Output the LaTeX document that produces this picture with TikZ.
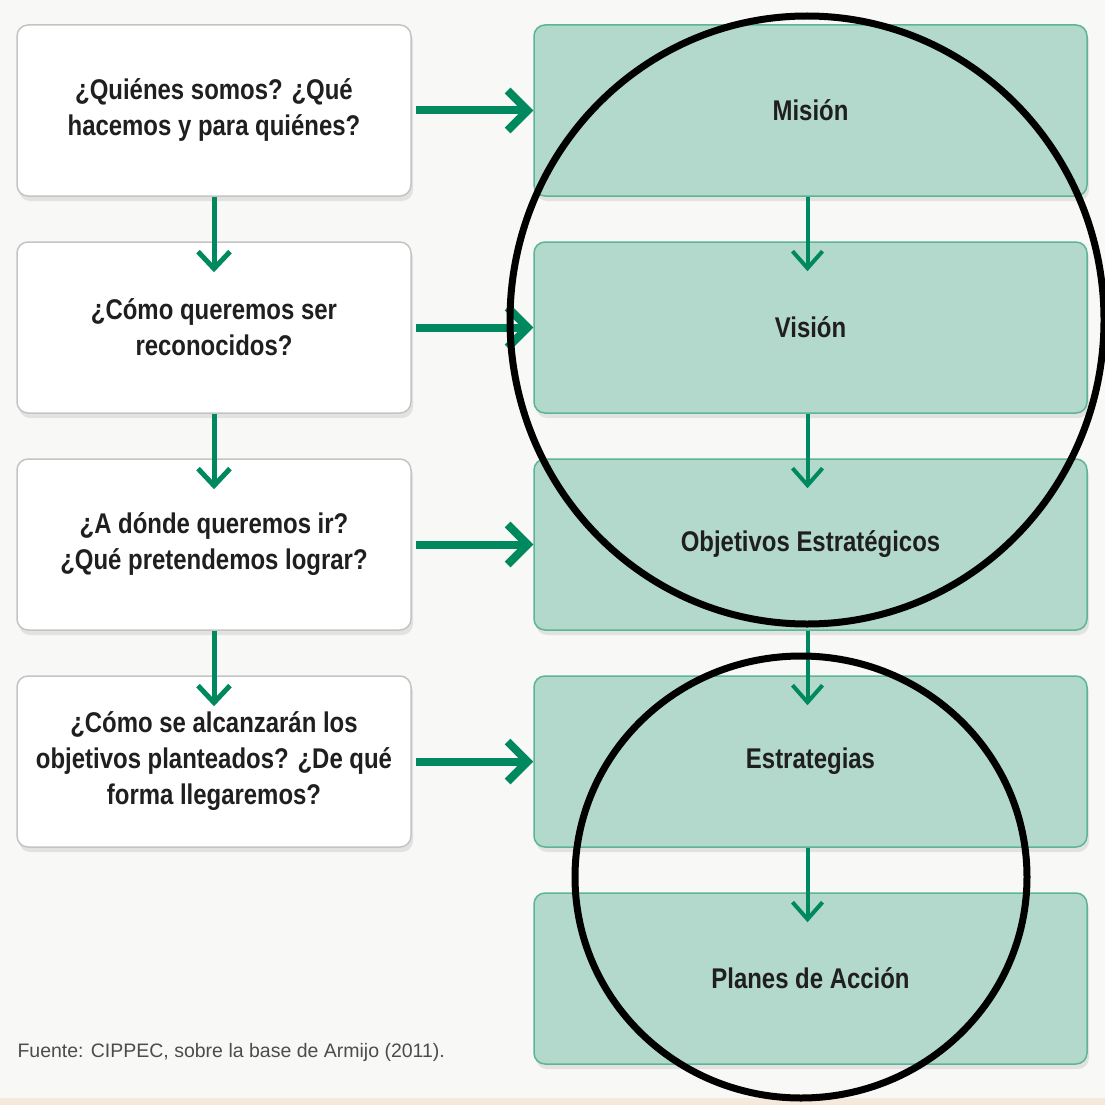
\documentclass[tikz,border=0pt]{standalone}
\usepackage{fontspec}
\setmainfont{Liberation Sans}[FakeStretch=0.84]
\newfontfamily\fuentefont{Liberation Sans}
\usetikzlibrary{arrows.meta, shadows}
\definecolor{bgpaper}{HTML}{F8F8F6}
\definecolor{bgstrip}{HTML}{F7E8DC}
\definecolor{boxgray}{HTML}{C4C4C4}
\definecolor{mint}{HTML}{B3D8CC}
\definecolor{mintedge}{HTML}{5BB596}
\definecolor{arrowgreen}{HTML}{00895F}
\definecolor{inkgray}{HTML}{1F1F1F}
\tikzstyle{question} = [rectangle, rounded corners=11pt, minimum width=394pt, minimum height=171pt, text centered, align=center, draw=boxgray, line width=1.5pt, fill=white, text=inkgray, font=\bfseries\fontsize{28.5}{36}\selectfont, drop shadow={opacity=0.18, shadow xshift=2pt, shadow yshift=-5pt}]
\tikzstyle{stage} = [question, minimum width=553pt, draw=mintedge, fill=mint]
\tikzstyle{harrow} = [arrowgreen, line width=8pt, -{Straight Barb[length=20pt, width=40pt]}]
\tikzstyle{varrow} = [arrowgreen, line width=5pt, -{Straight Barb[length=17pt, width=32pt]}]
\tikzstyle{sarrow} = [arrowgreen, line width=4pt, -{Straight Barb[length=17pt, width=30pt]}]
\tikzstyle{ring} = [draw=black, line width=7pt]

\begin{document}
\begin{tikzpicture}[x=1pt, y=1pt, node distance=217pt]
\fill [bgpaper] (0,-1105) rectangle (1105,0);
\fill [bgstrip] (0,-1105) rectangle (1105,-1098);
\useasboundingbox (0,-1105) rectangle (1105,0);
% preguntas
\node (q1) [question] at (214,-110.5) {¿Quiénes somos? ¿Qué\\hacemos y para quiénes?};
\node (q2) [question, below of = q1] {¿Cómo queremos ser\\reconocidos?};
\node (q3) [question, below of = q2] {¿A dónde queremos ir?\\¿Qué pretendemos lograr?};
\node (q4) [question, below of = q3] {¿Cómo se alcanzarán los\\objetivos planteados? ¿De qué\\forma llegaremos?};
% etapas
\node (mision) [stage, right of = q1, xshift = 379.5pt] {Misión};
\node (vision) [stage, below of = mision] {Visión};
\node (objetivos) [stage, below of = vision] {Objetivos Estratégicos};
\node (estrategias) [stage, below of = objetivos] {Estrategias};
\node (planes) [stage, below of = estrategias] {Planes de Acción};
\draw [harrow] ([xshift=4pt]q1.east) -- (mision.west |- q1.east);
\draw [harrow] ([xshift=4pt]q2.east) -- (vision.west |- q2.east);
\draw [harrow] ([xshift=4pt]q3.east) -- (objetivos.west |- q3.east);
\draw [harrow] ([xshift=4pt]q4.east) -- (estrategias.west |- q4.east);
\draw [varrow] (q1.south) -- ([yshift=-31pt]q2.north);
\draw [varrow] (q2.south) -- ([yshift=-31pt]q3.north);
\draw [varrow] (q3.south) -- ([yshift=-31pt]q4.north);
\draw [sarrow] ([xshift=-3pt]mision.south) -- ([xshift=-3pt, yshift=-30pt]vision.north);
\draw [sarrow] ([xshift=-3pt]vision.south) -- ([xshift=-3pt, yshift=-30pt]objetivos.north);
\draw [sarrow] ([xshift=-3pt]objetivos.south) -- ([xshift=-3pt, yshift=-30pt]estrategias.north);
\draw [sarrow] ([xshift=-3pt]estrategias.south) -- ([xshift=-3pt, yshift=-30pt]planes.north);
% marcas a mano
\draw [ring] (807,-320) ellipse (297 and 304);
\draw [ring] (801,-877) ellipse (226 and 221);
\node (fuente) [anchor=base west, text=black!70, font=\fuentefont\fontsize{19.5}{24}\selectfont] at (14,-1057) {Fuente: CIPPEC, sobre la base de Armijo (2011).};
\end{tikzpicture}
\end{document}
